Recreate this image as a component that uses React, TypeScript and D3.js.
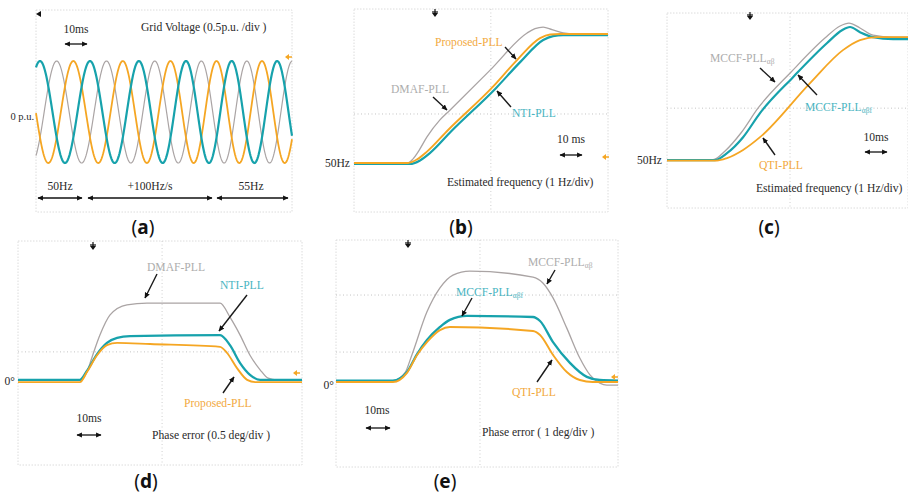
import React from 'react';
import * as d3 from 'd3';

type Pt = [number, number];

// ---------- Panel (a): grid voltage ----------
const aFreqTimes = [0, 20, 70, 102.4]; // ms
const aFreqValues = [50, 50, 55, 55]; // Hz
const aPhaseLags = [120, 240, 0]; // deg: gray, orange, teal
const aFirstPeak = 1.6; // ms, teal phase peak
const aSampleStep = 0.2; // ms

// ---------- Panel (b): estimated frequency ----------
const bDmaf: Pt[] = [[0, 50], [22.5, 50], [24.6, 50.16], [26.7, 50.43], [30.4, 51.01], [35.8, 51.67], [39.2, 51.98], [56.7, 53.6], [72.1, 55.04], [75.4, 55.21], [78.8, 55.27], [82.5, 55.17], [87.1, 55.04], [92.1, 55.0], [105.8, 55.0]];
const bNti: Pt[] = [[0, 49.96], [23.3, 49.96], [27.5, 50.1], [31.7, 50.39], [40.4, 51.22], [59.2, 52.91], [69.2, 53.91], [78.8, 54.77], [82.9, 54.92], [87.1, 54.96], [105.8, 54.96]];
const bProp: Pt[] = [[0, 50], [22.5, 50], [26.3, 50.14], [30.4, 50.44], [39.2, 51.28], [57.9, 52.96], [67.9, 53.99], [77.5, 54.84], [81.7, 54.98], [85.8, 55.0], [105.8, 55.0]];

// ---------- Panel (c): estimated frequency ----------
const cMccfA: Pt[] = [[0, 50.02], [19.2, 50.02], [24.2, 50.37], [30.8, 51.1], [37.9, 52.11], [51.7, 53.58], [65.8, 54.96], [72.1, 55.45], [75.8, 55.57], [80.4, 55.37], [85.8, 55.08], [94.2, 55.0], [100.4, 55.0]];
const cMccfB: Pt[] = [[0, 50], [20, 50], [25, 50.28], [31.7, 50.93], [38.75, 51.91], [52.5, 53.37], [66.7, 54.76], [72.9, 55.28], [76.25, 55.41], [80.4, 55.2], [85.8, 55.0], [94.2, 54.92], [100.4, 54.92]];
const cQti: Pt[] = [[0, 49.98], [20.8, 49.98], [25, 50.08], [31.7, 50.41], [38.75, 50.93], [59.6, 53.13], [73.3, 54.47], [80.4, 54.88], [87.5, 55.0], [100.4, 55.0]];

// ---------- Panel (d): phase error ----------
const dDmaf: Pt[] = [[0, 0.02], [23.8, 0.01], [26.5, 0.16], [28.5, 0.43], [31.5, 0.82], [35.4, 1.18], [41.9, 1.36], [49.6, 1.39], [77.7, 1.39], [81.5, 1.14], [85.4, 0.82], [89.2, 0.46], [93.1, 0.2], [96.2, 0.05], [99.5, 0.02], [109.2, 0.02]];
const dNti: Pt[] = [[0, 0.02], [23.8, 0.02], [26.5, 0.18], [30.4, 0.48], [34.2, 0.68], [38.1, 0.77], [43.1, 0.8], [77.7, 0.82], [81.5, 0.64], [85.4, 0.32], [89.2, 0.11], [93.1, 0.02], [109.2, 0.02]];
const dProp: Pt[] = [[0, -0.02], [23.8, -0.02], [26.5, 0.16], [30.4, 0.46], [34.2, 0.64], [38.1, 0.68], [50.8, 0.66], [77.7, 0.61], [80.4, 0.5], [84.2, 0.23], [88.1, 0.02], [91.2, -0.02], [109.2, -0.02]];

// ---------- Panel (e): phase error ----------
const eMccfA: Pt[] = [[0, 0.05], [21.9, 0.05], [26.5, 0.32], [29.2, 0.95], [35, 2.46], [40, 3.3], [45, 3.75], [51.5, 3.89], [75.8, 3.68], [79.6, 3.47], [83.5, 2.95], [88.8, 1.89], [93.8, 0.84], [97.7, 0.25], [101.5, -0.04], [104.2, -0.11], [108.5, -0.11]];
const eMccfB: Pt[] = [[0, 0.05], [21.9, 0.05], [27.3, 0.35], [31.2, 0.98], [35, 1.47], [40, 1.93], [43.8, 2.18], [50.4, 2.32], [75.8, 2.28], [78.5, 2.14], [83.5, 1.4], [90, 0.67], [96.5, 0.18], [101.5, 0.07], [108.5, 0.05]];
const eQti: Pt[] = [[0, 0], [21.9, 0], [27.3, 0.32], [31.2, 0.95], [35, 1.4], [40, 1.82], [43.8, 1.93], [75.8, 1.79], [78.5, 1.65], [83.5, 0.95], [88.8, 0.35], [93.8, 0.07], [98.8, 0], [108.5, 0]];

const TEAL = '#17a2ac';
const ORANGE = '#f5a623';
const GRAY = '#aaa4a4';
const TEAL_T = '#4ab5c2';
const ORANGE_T = '#f2a93e';
const GRAY_T = '#adadad';
const DARK = '#2a2a2a';
const FS = 11.6;

interface Frame { x: number; y: number; w: number; h: number; }
interface Series { data: Pt[]; color: string; width: number; }

function cyclesAt(t: number): number {
  let c = 0;
  for (let i = 0; i < aFreqTimes.length - 1; i++) {
    const a = aFreqTimes[i];
    const b = Math.min(aFreqTimes[i + 1], t);
    if (b <= a) break;
    const fa = aFreqValues[i];
    const fb = fa + (aFreqValues[i + 1] - fa) * (b - a) / (aFreqTimes[i + 1] - a);
    c += ((fa + fb) / 2) * (b - a) / 1000;
  }
  return c;
}

function Panel(props: { frame: Frame; xDomain: [number, number]; yDomain: [number, number]; series: Series[]; gridT: number[]; gridV: number[]; curve?: any }) {
  const { frame, xDomain, yDomain, series, gridT, gridV } = props;
  const x = d3.scaleLinear().domain(xDomain).range([frame.x, frame.x + frame.w]);
  const y = d3.scaleLinear().domain(yDomain).range([frame.y + frame.h, frame.y]);
  const line = d3.line<Pt>().x(d => x(d[0])).y(d => y(d[1])).curve(props.curve || d3.curveMonotoneX);
  return (
    <g>
      <rect x={frame.x} y={frame.y} width={frame.w} height={frame.h} fill="none" stroke="#dcdcdc" strokeWidth={1} strokeDasharray="1.5,1.5" />
      {gridT.map((t, i) => (
        <line key={'gt' + i} x1={x(t)} x2={x(t)} y1={frame.y} y2={frame.y + frame.h} stroke="#cfcfcf" strokeWidth={1} strokeDasharray="1,2.5" />
      ))}
      {gridV.map((v, i) => (
        <line key={'gv' + i} x1={frame.x} x2={frame.x + frame.w} y1={y(v)} y2={y(v)} stroke="#c4c4c4" strokeWidth={1} strokeDasharray="1,2.5" />
      ))}
      {series.map((s, i) => (
        <path key={'s' + i} d={line(s.data) || ''} fill="none" stroke={s.color} strokeWidth={s.width} strokeLinejoin="round" />
      ))}
    </g>
  );
}

const T = (p: { x: number; y: number; c?: string; a?: string; s?: number; children: any }) => (
  <text x={p.x} y={p.y} fill={p.c || DARK} textAnchor={p.a || 'start'} fontSize={p.s || FS}>{p.children}</text>
);

const DArrow = (p: { x1: number; x2: number; y: number }) => (
  <line x1={p.x1 + 1} x2={p.x2 - 1} y1={p.y} y2={p.y} stroke="#111" strokeWidth={1.3} markerStart="url(#ah)" markerEnd="url(#ah)" />
);

const Ptr = (p: { x1: number; y1: number; x2: number; y2: number }) => (
  <line x1={p.x1} y1={p.y1} x2={p.x2} y2={p.y2} stroke="#1a1a1a" strokeWidth={1.4} markerEnd="url(#ah)" />
);

const Trig = (p: { x: number; y: number }) => (
  <g>
    <line x1={p.x} x2={p.x} y1={p.y - 4} y2={p.y + 2} stroke="#111" strokeWidth={1.2} />
    <line x1={p.x - 3} x2={p.x + 3} y1={p.y - 1} y2={p.y - 1} stroke="#111" strokeWidth={1.2} />
    <path d={`M${p.x - 3},${p.y} L${p.x + 3},${p.y} L${p.x},${p.y + 4} Z`} fill="#111" />
  </g>
);

const OMark = (p: { x: number; y: number }) => (
  <g>
    <path d={`M${p.x - 3},${p.y} L${p.x + 1},${p.y - 3} L${p.x + 1},${p.y + 3} Z`} fill={ORANGE} />
    <line x1={p.x} x2={p.x + 4} y1={p.y} y2={p.y} stroke={ORANGE} strokeWidth={1.5} />
  </g>
);

const PanelLabel = (p: { x: number; y: number; l: string }) => (
  <text x={p.x} y={p.y} textAnchor="middle" fontSize={19} fontFamily="'Noto Sans', sans-serif" fill="#111">
    (<tspan fontWeight="bold">{p.l}</tspan>)
  </text>
);

const Sub = (p: { x: number; y: number; c: string; sub: string }) => (
  <text x={p.x} y={p.y} fill={p.c} fontSize={FS}>MCCF-PLL<tspan fontSize={7.5} dy={2}>{p.sub}</tspan></text>
);

export default function App() {
  const aTimes = d3.range(0, 102.4 + 1e-6, aSampleStep);
  const c0 = cyclesAt(aFirstPeak);
  const aColors = [GRAY, ORANGE, TEAL];
  const aWidths = [1.2, 1.8, 2.2];
  const aSeries: Series[] = aPhaseLags.map((lag, i) => ({
    data: aTimes.map(t => [t, Math.cos(2 * Math.PI * (cyclesAt(t) - c0) - (lag * Math.PI) / 180)] as Pt),
    color: aColors[i],
    width: aWidths[i],
  }));

  return (
    <svg width={908} height={495} style={{ position: 'absolute', left: 0, top: 0, background: '#fff' }} fontFamily="'Liberation Serif', 'Times New Roman', serif">
      <defs>
        <marker id="ah" viewBox="0 0 10 10" refX="9" refY="5" markerWidth="4.2" markerHeight="4.2" orient="auto-start-reverse">
          <path d="M0,0.5 L10,5 L0,9.5 Z" fill="#111" />
        </marker>
      </defs>

      {/* (a) */}
      <Panel frame={{ x: 36, y: 10, w: 256, h: 202 }} xDomain={[0, 102.4]} yDomain={[-1.96, 2.0]} series={aSeries} gridT={[]} gridV={[]} curve={d3.curveLinear} />
      <T x={76} y={33} a="middle">10ms</T>
      <DArrow x1={64} x2={88} y={44} />
      <T x={141} y={31}>Grid Voltage (0.5p.u. /div )</T>
      <T x={34} y={120} a="end" s={10.5}>0 p.u.</T>
      <T x={60} y={190} a="middle">50Hz</T>
      <T x={150} y={190} a="middle">+100Hz/s</T>
      <T x={251} y={190} a="middle">55Hz</T>
      <DArrow x1={37} x2={83} y={198} />
      <DArrow x1={87} x2={213} y={198} />
      <DArrow x1={216} x2={289} y={198} />
      <path d="M36,14 L41,11 L41,17 Z" fill="#111" />
      <OMark x={288} y={57} />
      <PanelLabel x={143} y={234} l="a" />

      {/* (b) */}
      <Panel frame={{ x: 354, y: 9, w: 254, h: 203 }} xDomain={[0, 105.8]} yDomain={[48.1, 55.97]} series={[
        { data: bDmaf, color: GRAY, width: 1.3 },
        { data: bNti, color: TEAL, width: 2.2 },
        { data: bProp, color: ORANGE, width: 1.9 },
      ]} gridT={[57]} gridV={[51.9]} />
      <T x={435} y={46} c={ORANGE_T}>Proposed-PLL</T>
      <Ptr x1={505} y1={47} x2={516} y2={59} />
      <T x={391} y={93} c={GRAY_T}>DMAF-PLL</T>
      <Ptr x1={433} y1={97} x2={447} y2={110} />
      <T x={512} y={117} c={TEAL_T}>NTI-PLL</T>
      <Ptr x1={511} y1={107} x2={497} y2={91} />
      <T x={571} y={143} a="middle">10 ms</T>
      <DArrow x1={559} x2={583} y={155} />
      <T x={447} y={186}>Estimated frequency (1 Hz/div)</T>
      <T x={350} y={167} a="end">50Hz</T>
      <Trig x={435} y={13} />
      <OMark x={605} y={157} />
      <PanelLabel x={461} y={234} l="b" />

      {/* (c) */}
      <Panel frame={{ x: 667, y: 13, w: 241, h: 195 }} xDomain={[0, 100.4]} yDomain={[48.05, 55.98]} series={[
        { data: cMccfA, color: GRAY, width: 1.3 },
        { data: cMccfB, color: TEAL, width: 2.2 },
        { data: cQti, color: ORANGE, width: 1.8 },
      ]} gridT={[51.25]} gridV={[52.11]} />
      <Sub x={710} y={62} c={GRAY_T} sub="αβ" />
      <Ptr x1={760} y1={68} x2={775} y2={82} />
      <Sub x={805} y={111} c={TEAL_T} sub="αβf" />
      <Ptr x1={817} y1={95} x2={798} y2={75} />
      <T x={759} y={169} c={ORANGE_T}>QTI-PLL</T>
      <Ptr x1={775} y1={155} x2={763} y2={138} />
      <T x={876} y={141} a="middle">10ms</T>
      <DArrow x1={864} x2={888} y={152} />
      <T x={756} y={192}>Estimated frequency (1 Hz/div)</T>
      <T x={662} y={164} a="end">50Hz</T>
      <Trig x={750} y={16} />
      <PanelLabel x={769} y={234} l="c" />

      {/* (d) */}
      <Panel frame={{ x: 18, y: 241, w: 284, h: 224 }} xDomain={[0, 109.2]} yDomain={[-1.5, 2.5]} series={[
        { data: dDmaf, color: GRAY, width: 1.3 },
        { data: dNti, color: TEAL, width: 2.3 },
        { data: dProp, color: ORANGE, width: 1.9 },
      ]} gridT={[55.4]} gridV={[0.52]} />
      <T x={147} y={271} c={GRAY_T}>DMAF-PLL</T>
      <Ptr x1={157} y1={274} x2={145} y2={298} />
      <T x={220} y={289} c={TEAL_T}>NTI-PLL</T>
      <Ptr x1={247} y1={295} x2={219} y2={331} />
      <T x={184} y={407} c={ORANGE_T}>Proposed-PLL</T>
      <Ptr x1={223} y1={393} x2={234} y2={377} />
      <T x={89} y={422} a="middle">10ms</T>
      <DArrow x1={76} x2={102} y={435} />
      <T x={152} y={439}>Phase error (0.5 deg/div )</T>
      <T x={15} y={385} a="end">0°</T>
      <Trig x={93} y={246} />
      <OMark x={296} y={373} />
      <PanelLabel x={146} y={488} l="d" />

      {/* (e) */}
      <Panel frame={{ x: 336, y: 240, w: 282, h: 227 }} xDomain={[0, 108.5]} yDomain={[-2.98, 4.98]} series={[
        { data: eMccfA, color: GRAY, width: 1.3 },
        { data: eMccfB, color: TEAL, width: 2.3 },
        { data: eQti, color: ORANGE, width: 1.9 },
      ]} gridT={[55.4]} gridV={[1.05, 3.05]} />
      <Sub x={528} y={266} c={GRAY_T} sub="αβ" />
      <Ptr x1={555} y1={270} x2={547} y2={284} />
      <Sub x={456} y={296} c={TEAL_T} sub="αβf" />
      <Ptr x1={472} y1={298} x2={462} y2={316} />
      <T x={512} y={396} c={ORANGE_T}>QTI-PLL</T>
      <Ptr x1={537} y1={382} x2={552} y2={360} />
      <T x={377} y={414} a="middle">10ms</T>
      <DArrow x1={365} x2={391} y={428} />
      <T x={482} y={436}>Phase error ( 1 deg/div )</T>
      <T x={334} y={389} a="end">0°</T>
      <Trig x={408} y={244} />
      <OMark x={614} y={377} />
      <PanelLabel x={445} y={488} l="e" />
    </svg>
  );
}
